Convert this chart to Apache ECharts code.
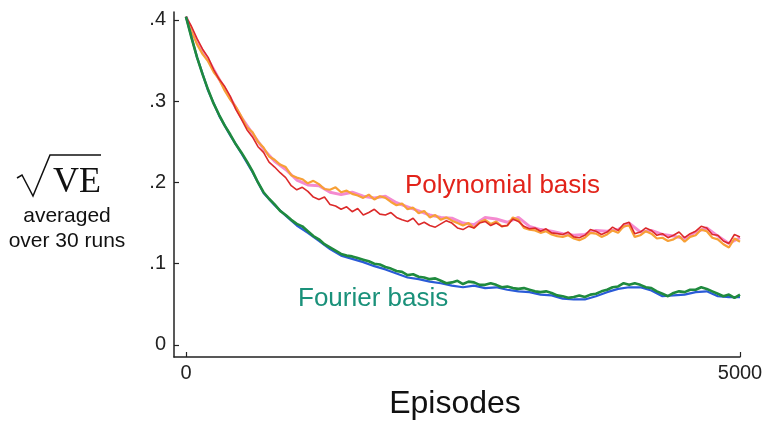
<!DOCTYPE html>
<html><head><meta charset="utf-8">
<script src="https://cdn.jsdelivr.net/npm/echarts@6/dist/echarts.min.js"></script>
<style>html,body{margin:0;padding:0;background:#fff}#c{width:766px;height:421px}</style>
</head><body><div id="c"></div>
<script>
// sample spacing (episodes) of the series arrays
const STEP_FINE = 50;
const STEP_COARSE = 100;
const xTicks = [0, 5000];
const yTicks = [0, 0.1, 0.2, 0.3, 0.4];

// Polynomial basis runs (value every 50 episodes)
const polyRed = [
  .404,.392,.377,.364,.354,.339,.327,.318,.306,.290,
  .278,.265,.256,.244,.237,.225,.219,.212,.206,.196,
  .191,.194,.189,.182,.179,.182,.173,.171,.167,.170,
  .164,.168,.160,.163,.167,.161,.160,.163,.157,.154,
  .152,.156,.148,.151,.147,.145,.149,.153,.150,.144,
  .142,.146,.144,.150,.152,.147,.150,.146,.147,.155,
  .152,.146,.143,.144,.140,.143,.138,.137,.136,.139,
  .133,.132,.135,.142,.140,.136,.139,.145,.141,.149,
  .151,.137,.139,.144,.141,.135,.137,.132,.135,.139,
  .132,.137,.140,.146,.144,.136,.135,.128,.125,.136,
  .133
];
const polyOrange = [
  .404,.386,.370,.358,.349,.336,.327,.313,.302,.293,
  .281,.268,.262,.250,.243,.232,.228,.222,.219,.209,
  .206,.204,.199,.202,.198,.192,.191,.194,.188,.190,
  .186,.184,.181,.185,.179,.183,.181,.176,.172,.174,
  .167,.169,.162,.165,.157,.160,.154,.157,.153,.150,
  .147,.150,.144,.151,.154,.149,.152,.146,.147,.157,
  .154,.144,.142,.141,.138,.140,.136,.134,.133,.135,
  .131,.129,.132,.138,.137,.133,.136,.141,.138,.146,
  .147,.133,.135,.140,.137,.131,.132,.128,.130,.134,
  .127,.133,.135,.142,.140,.132,.130,.124,.120,.131,
  .127
];
// Polynomial basis pink run (value every 100 episodes)
const polyPink = [
  .404,.373,.351,.327,.304,.280,.260,.241,.226,.216,
  .203,.197,.196,.188,.185,.188,.183,.181,.183,.175,
  .170,.165,.160,.157,.156,.150,.148,.157,.155,.151,
  .157,.146,.142,.140,.137,.135,.136,.141,.140,.142,
  .150,.139,.141,.136,.134,.131,.139,.144,.134,.125,
  .132
];
// Fourier basis runs
const fourierGreen = [
  .404,.378,.354,.333,.314,.297,.283,.270,.259,.247,
  .237,.226,.214,.200,.188,.180,.173,.165,.160,.154,
  .149,.146,.140,.134,.130,.124,.120,.116,.112,.110,
  .109,.107,.105,.103,.100,.099,.096,.094,.091,.090,
  .086,.087,.084,.083,.081,.082,.079,.076,.077,.079,
  .075,.078,.077,.074,.074,.076,.074,.071,.072,.070,
  .069,.070,.068,.066,.065,.066,.064,.061,.060,.058,
  .059,.061,.059,.062,.063,.066,.068,.071,.072,.076,
  .074,.076,.074,.071,.070,.066,.063,.060,.064,.066,
  .065,.068,.068,.071,.069,.066,.063,.060,.062,.058,
  .062
];
const fourierBlue = [
  .404,.354,.313,.282,.258,.236,.213,.187,.172,.159,
  .147,.138,.128,.118,.110,.106,.102,.097,.093,.088,
  .083,.081,.078,.076,.073,.071,.073,.070,.071,.068,
  .066,.065,.062,.061,.057,.056,.056,.060,.065,.069,
  .071,.071,.067,.060,.061,.062,.065,.066,.060,.059,
  .059
];

const toPairs = (arr, step) => arr.map((v, i) => [i * step, v]);
const lineSeries = (name, arr, step, color, width, z) => ({
  name, type: 'line', data: toPairs(arr, step), showSymbol: false, symbol: 'none',
  lineStyle: { color, width }, z, silent: true, animation: false
});

const chart = echarts.init(document.getElementById('c'), null, { renderer: 'canvas' });
const axisColor = '#222';
const sans = '"Liberation Sans", Arial, Helvetica, sans-serif';
chart.setOption({
  animation: false,
  backgroundColor: '#fff',
  grid: { left: 174, right: 26, top: 12, bottom: 64, containLabel: false },
  xAxis: {
    type: 'value', min: -108, max: 5000,
    splitLine: { show: false },
    axisLine: { onZero: false, lineStyle: { color: axisColor, width: 1.5 } },
    axisTick: { inside: true, length: 5, customValues: xTicks, lineStyle: { color: axisColor, width: 1.2 } },
    axisLabel: { customValues: xTicks, fontSize: 20, color: axisColor, margin: 6, fontFamily: sans,
      formatter: v => String(Math.round(v)) }
  },
  yAxis: {
    type: 'value', min: -0.0148, max: 0.4098,
    splitLine: { show: false },
    axisLine: { onZero: false, lineStyle: { color: axisColor, width: 1.5 } },
    axisTick: { inside: true, length: 5, customValues: yTicks, lineStyle: { color: axisColor, width: 1.2 } },
    axisLabel: {
      customValues: yTicks, fontSize: 20, color: axisColor, margin: 8, fontFamily: sans,
      formatter: v => (Math.abs(v) < 1e-9 ? '0' : '.' + Math.round(v * 10))
    }
  },
  series: [
    lineSeries('Polynomial (pink)', polyPink, STEP_COARSE, '#f48ad0', 3, 1),
    lineSeries('Polynomial (orange)', polyOrange, STEP_FINE, '#f7a036', 2.2, 2),
    lineSeries('Polynomial (red)', polyRed, STEP_FINE, '#dc2a2a', 1.6, 3),
    lineSeries('Fourier (blue)', fourierBlue, STEP_COARSE, '#2a5bd7', 2.2, 4),
    lineSeries('Fourier (green)', fourierGreen, STEP_FINE, '#1f8a3e', 2.6, 5)
  ],
  graphic: [
    { type: 'polyline', shape: { points: [[17,178],[22,175],[33,196],[50,155],[101,155]] },
      style: { stroke: '#111', lineWidth: 1.5, fill: null } },
    { type: 'text', x: 53, y: 183, style: { text: 'VE', font: '36px "Liberation Serif", "Times New Roman", serif', fill: '#111', align: 'left', verticalAlign: 'middle', textAlign: 'left', textVerticalAlign: 'middle' } },
    { type: 'text', x: 67, y: 216, style: { text: 'averaged', font: '21px ' + sans, fill: '#111', align: 'center', verticalAlign: 'middle', textAlign: 'center', textVerticalAlign: 'middle' } },
    { type: 'text', x: 67, y: 241, style: { text: 'over 30 runs', font: '21px ' + sans, fill: '#111', align: 'center', verticalAlign: 'middle', textAlign: 'center', textVerticalAlign: 'middle' } },
    { type: 'text', x: 405, y: 186, z: 10, style: { text: 'Polynomial basis', font: '26px ' + sans, fill: '#e2231a', align: 'left', verticalAlign: 'middle', textAlign: 'left', textVerticalAlign: 'middle' } },
    { type: 'text', x: 298, y: 299, z: 10, style: { text: 'Fourier basis', font: '26px ' + sans, fill: '#1a917a', align: 'left', verticalAlign: 'middle', textAlign: 'left', textVerticalAlign: 'middle' } },
    { type: 'text', x: 455, y: 404, style: { text: 'Episodes', font: '32px ' + sans, fill: '#111', align: 'center', verticalAlign: 'middle', textAlign: 'center', textVerticalAlign: 'middle' } }
  ]
});
</script>
</body></html>
